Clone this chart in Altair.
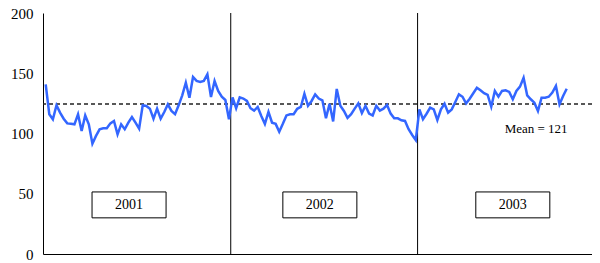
import altair as alt
import pandas as pd

# Weekly values
v2001 = [140.8, 116, 111.8, 123.4, 117.3, 112.3, 108.4, 108.1, 107.6, 116,
         102, 115, 107.6, 91.5, 98, 103.5, 104.3, 104.3, 108.4, 110.4,
         99.3, 107.6, 103.5, 109, 113.7, 109, 104, 123.4, 122.8, 120.6,
         112.3, 120.6, 112.3, 117.8, 124.2, 118.7, 116, 123.4, 131.7, 142.2,
         129.7, 146.9, 143.6, 142.7, 143.6, 149.1, 130.3, 143.6, 135.3, 130.5,
         127.8, 111.8]
v2002 = [130, 121, 130, 129, 127, 121, 119, 122, 114.5, 108,
         118, 109, 108, 101.5, 108, 115, 116, 116, 120.5, 122,
         133, 123, 127, 132.5, 129, 127.5, 112.6, 124.7, 110, 137,
         123, 118.7, 113, 116, 120.6, 125, 117, 123, 116.5, 115,
         123, 119, 120.6, 123.7, 116.5, 112.6, 112.6, 111, 110.4, 103.5,
         98.8, 94.6]
v2003 = [120, 111.8, 116.4, 121.4, 120, 111.2, 120, 124.7, 117.3, 120,
         126.1, 132.5, 130.5, 125, 128.9, 133.4, 138, 135.8, 133.4, 132,
         122.2, 135.3, 130.5, 135.3, 135.8, 134.5, 128.4, 135.3, 138.9, 146.3,
         131.7, 128.4, 125.6, 118.7, 129.7, 129.7, 130.5, 133.9, 139.4, 124.2,
         131.1, 137.2]
years = ["2001", "2002", "2003"]
mean_line = 124.5
mean_label = "Mean = 121"
y_ticks = [0, 50, 100, 150, 200]

values = v2001 + v2002 + v2003
df = pd.DataFrame({"week": list(range(len(values))), "value": values})

# year boundaries (between weeks)
n1, n2 = len(v2001), len(v2001) + len(v2002)
sep_df = pd.DataFrame({"x": [n1 - 0.5, n2 - 0.5]})

# annotation placement (layout constants)
box_cx = [23.2, 76.3, 130.0]
box_half_w = 10.3
box_y1, box_y2 = 30.0, 51.5
box_df = pd.DataFrame({
    "year": years,
    "x1": [c - box_half_w for c in box_cx],
    "x2": [c + box_half_w for c in box_cx],
    "xc": box_cx,
    "y1": [box_y1] * 3,
    "y2": [box_y2] * 3,
    "yc": [(box_y1 + box_y2) / 2] * 3,
})
mean_df = pd.DataFrame({"y": [mean_line]})
mean_txt_df = pd.DataFrame({"x": [136.5], "y": [103.7], "t": [mean_label]})

xs = alt.Scale(domain=[-0.75, 152.04], nice=False, zero=False)
ys = alt.Scale(domain=[0, 200], nice=False)

FONT = "Liberation Serif"

line = alt.Chart(df).mark_line(color="#3366ff", strokeWidth=2.5).encode(
    x=alt.X("week:Q", scale=xs,
            axis=alt.Axis(labels=False, ticks=False, title=None, grid=False,
                          domainColor="black", domainWidth=1)),
    y=alt.Y("value:Q", scale=ys,
            axis=alt.Axis(values=y_ticks, ticks=False, title=None, grid=False,
                          domainColor="black", domainWidth=1,
                          labelFont=FONT, labelFontSize=15, labelColor="black",
                          labelPadding=10)),
)

seps = alt.Chart(sep_df).mark_rule(color="black", strokeWidth=1).encode(
    x=alt.X("x:Q", scale=xs)
)

mean_rule = alt.Chart(mean_df).mark_rule(color="#222222", strokeWidth=1.3,
                                         strokeDash=[4, 3]).encode(
    y=alt.Y("y:Q", scale=ys)
)

boxes = alt.Chart(box_df).mark_rect(fill="white", stroke="black",
                                    strokeWidth=1).encode(
    x=alt.X("x1:Q", scale=xs), x2="x2:Q",
    y=alt.Y("y1:Q", scale=ys), y2="y2:Q",
)
box_text = alt.Chart(box_df).mark_text(font=FONT, fontSize=14,
                                       color="black").encode(
    x=alt.X("xc:Q", scale=xs), y=alt.Y("yc:Q", scale=ys), text="year:N"
)
mean_text = alt.Chart(mean_txt_df).mark_text(font=FONT, fontSize=13,
                                             color="black").encode(
    x=alt.X("x:Q", scale=xs), y=alt.Y("y:Q", scale=ys), text="t:N"
)

chart = alt.layer(seps, mean_rule, line, boxes, box_text, mean_text).properties(
    width=549, height=241,
    autosize=alt.AutoSizeParams(type="none"),
    padding={"left": 35, "top": 5, "right": 0, "bottom": 9},
).configure_view(stroke=None)

chart.save("out.html", embed_options={"renderer": "svg", "actions": False})
